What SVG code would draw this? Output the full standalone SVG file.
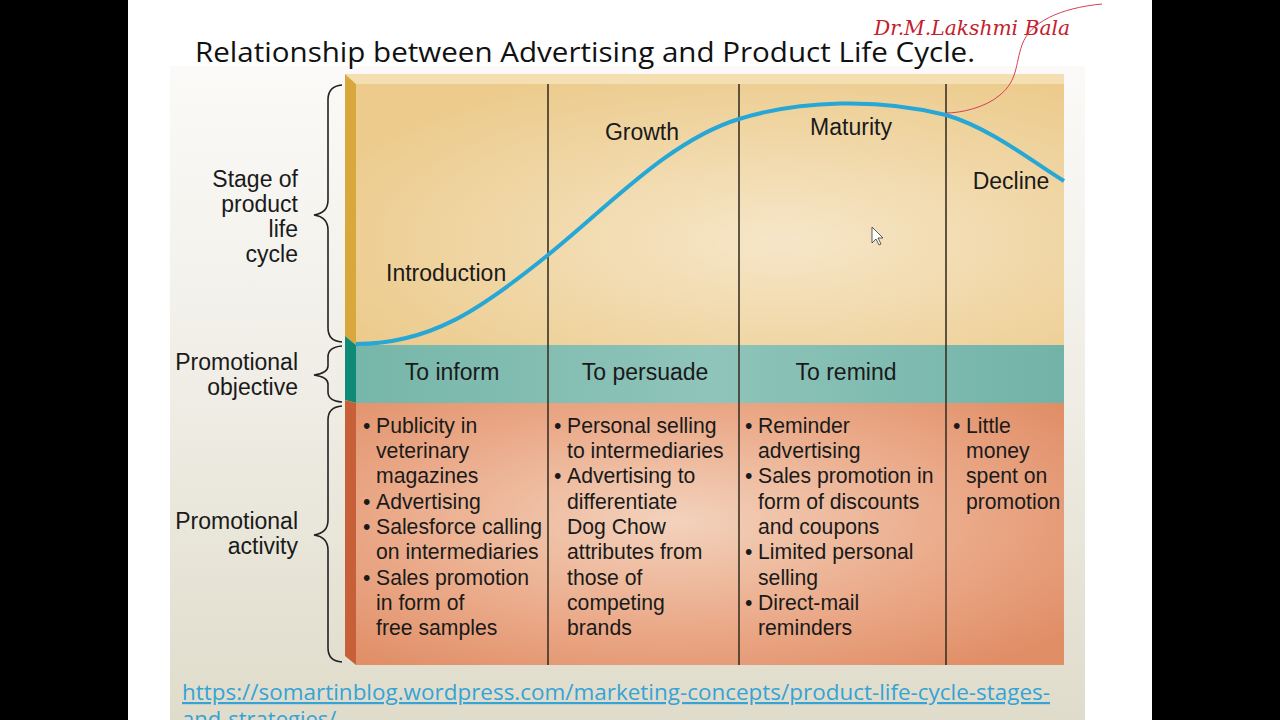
<svg xmlns="http://www.w3.org/2000/svg" width="1280" height="720" viewBox="0 0 1280 720">
<defs>
<linearGradient id="bg" x1="0" y1="0" x2="0" y2="1">
<stop offset="0" stop-color="#fbfaf8"/>
<stop offset="0.5" stop-color="#efede5"/>
<stop offset="1" stop-color="#e0dccb"/>
</linearGradient>
<radialGradient id="yel" cx="0.6" cy="0.6" r="0.7">
<stop offset="0" stop-color="#f6e6c8"/>
<stop offset="1" stop-color="#eccb8c"/>
</radialGradient>
<linearGradient id="teal" x1="0" y1="0" x2="1" y2="0">
<stop offset="0" stop-color="#77b6aa"/>
<stop offset="0.5" stop-color="#8fc4ba"/>
<stop offset="1" stop-color="#72b3a8"/>
</linearGradient>
<radialGradient id="sal" cx="0.45" cy="0.45" r="0.7">
<stop offset="0" stop-color="#f3d2bc"/>
<stop offset="0.6" stop-color="#eaa887"/>
<stop offset="1" stop-color="#e08e66"/>
</radialGradient>
<style>
.t{font-family:"Liberation Sans",Arial,sans-serif;font-size:21.2px;fill:#1a1a1a}
.b{font-size:23px}
.r{text-anchor:end}
.m{text-anchor:middle}
.br{fill:none;stroke:#222;stroke-width:1.6}
.dv{stroke:#3a3224;stroke-width:1.6}
</style>
</defs>
<rect x="0" y="0" width="1280" height="720" fill="#000"/>
<rect x="128" y="0" width="1024" height="720" fill="#fff"/>
<rect x="170" y="66" width="915" height="654" fill="url(#bg)"/>
<text x="195" y="62" font-family="'Open Sans','Liberation Sans',sans-serif" font-size="27" fill="#111" textLength="780" lengthAdjust="spacingAndGlyphs">Relationship between Advertising and Product Life Cycle.</text>
<g id="panel">
<polygon points="345,74 1064,74 1064,84 356,84" fill="#f3dfb2"/>
<polygon points="345,74 356,84 356,345 345,336" fill="#d8a83c"/>
<polygon points="345,336 356,345 356,403 345,400" fill="#0f8a77"/>
<polygon points="345,400 356,403 356,665 345,656" fill="#c75f38"/>
<rect x="356" y="84" width="708" height="261" fill="url(#yel)"/>
<rect x="356" y="345" width="708" height="58" fill="url(#teal)"/>
<rect x="356" y="403" width="708" height="262" fill="url(#sal)"/>
</g>
<g id="connectors">
<line class="dv" x1="548" y1="84" x2="548" y2="665"/>
<line class="dv" x1="739" y1="84" x2="739" y2="665"/>
<line class="dv" x1="946" y1="84" x2="946" y2="665"/>
<path d="M356,344 C430,344 480,310 548,255 C610,205 670,140 739,119 C800,100 880,98 946,115 C990,128 1030,160 1064,181" fill="none" stroke="#27a7d6" stroke-width="4"/>
<path class="br" d="M342,85 Q328,86 328,100 L328,200 Q328,213 314,215 Q328,217 328,230 L328,328 Q328,341 342,342"/>
<path class="br" d="M342,346 Q328,347 328,357 L328,366 Q328,373 314,375 Q328,377 328,384 L328,392 Q328,401 342,402"/>
<path class="br" d="M342,406 Q328,407 328,420 L328,520 Q328,533 314,535 Q328,537 328,550 L328,648 Q328,661 342,662"/>
</g>
<g id="labels-left">
<text class="t b r" x="298" y="187">Stage of</text>
<text class="t b r" x="298" y="212">product</text>
<text class="t b r" x="298" y="237">life</text>
<text class="t b r" x="298" y="262">cycle</text>
<text class="t b r" x="298" y="370">Promotional</text>
<text class="t b r" x="298" y="395">objective</text>
<text class="t b r" x="298" y="529">Promotional</text>
<text class="t b r" x="298" y="554">activity</text>
</g>
<g id="stages">
<text class="t b" x="386" y="281">Introduction</text>
<text class="t b m" x="642" y="140">Growth</text>
<text class="t b m" x="851" y="135">Maturity</text>
<text class="t b m" x="1011" y="189">Decline</text>
</g>
<g id="objectives">
<text class="t b m" x="452" y="380">To inform</text>
<text class="t b m" x="645" y="380">To persuade</text>
<text class="t b m" x="846" y="380">To remind</text>
</g>
<g id="col1">
<text class="t" x="363" y="433">•</text><text class="t" x="376" y="433">Publicity in</text>
<text class="t" x="376" y="458">veterinary</text>
<text class="t" x="376" y="483">magazines</text>
<text class="t" x="363" y="509">•</text><text class="t" x="376" y="509">Advertising</text>
<text class="t" x="363" y="534">•</text><text class="t" x="376" y="534">Salesforce calling</text>
<text class="t" x="376" y="559">on intermediaries</text>
<text class="t" x="363" y="585">•</text><text class="t" x="376" y="585">Sales promotion</text>
<text class="t" x="376" y="610">in form of</text>
<text class="t" x="376" y="635">free samples</text>
</g>
<g id="col2">
<text class="t" x="554" y="433">•</text><text class="t" x="567" y="433">Personal selling</text>
<text class="t" x="567" y="458">to intermediaries</text>
<text class="t" x="554" y="483">•</text><text class="t" x="567" y="483">Advertising to</text>
<text class="t" x="567" y="509">differentiate</text>
<text class="t" x="567" y="534">Dog Chow</text>
<text class="t" x="567" y="559">attributes from</text>
<text class="t" x="567" y="585">those of</text>
<text class="t" x="567" y="610">competing</text>
<text class="t" x="567" y="635">brands</text>
</g>
<g id="col3">
<text class="t" x="745" y="433">•</text><text class="t" x="758" y="433">Reminder</text>
<text class="t" x="758" y="458">advertising</text>
<text class="t" x="745" y="483">•</text><text class="t" x="758" y="483">Sales promotion in</text>
<text class="t" x="758" y="509">form of discounts</text>
<text class="t" x="758" y="534">and coupons</text>
<text class="t" x="745" y="559">•</text><text class="t" x="758" y="559">Limited personal</text>
<text class="t" x="758" y="585">selling</text>
<text class="t" x="745" y="610">•</text><text class="t" x="758" y="610">Direct-mail</text>
<text class="t" x="758" y="635">reminders</text>
</g>
<g id="col4">
<text class="t" x="953" y="433">•</text><text class="t" x="966" y="433">Little</text>
<text class="t" x="966" y="458">money</text>
<text class="t" x="966" y="483">spent on</text>
<text class="t" x="966" y="509">promotion</text>
</g>
<g id="cursor">
<polygon points="872,227 872,243 876,239 879,245 881,244 878,238 883,238" fill="#fff" stroke="#333" stroke-width="0.8"/>
</g>
<g id="url">
<text x="182" y="700" font-family="'Open Sans','Liberation Sans',sans-serif" font-size="22" fill="#35a3d6" text-decoration="underline" textLength="868" lengthAdjust="spacingAndGlyphs">https://somartinblog.wordpress.com/marketing-concepts/product-life-cycle-stages-</text>
<text x="182" y="727" font-family="'Open Sans','Liberation Sans',sans-serif" font-size="22" fill="#35a3d6">and-strategies/</text>
</g>
<g id="signature">
<text x="874" y="35" font-family="'DejaVu Serif','Liberation Serif',serif" font-style="italic" font-size="20" fill="#c4202c" textLength="196" lengthAdjust="spacingAndGlyphs">Dr.M.Lakshmi Bala</text>
<path d="M1102,4 C1060,8 1030,22 1022,45 C1015,65 1018,80 1000,95 C985,108 960,113 946,113" fill="none" stroke="#d4405a" stroke-width="1"/>
</g>
</svg>
